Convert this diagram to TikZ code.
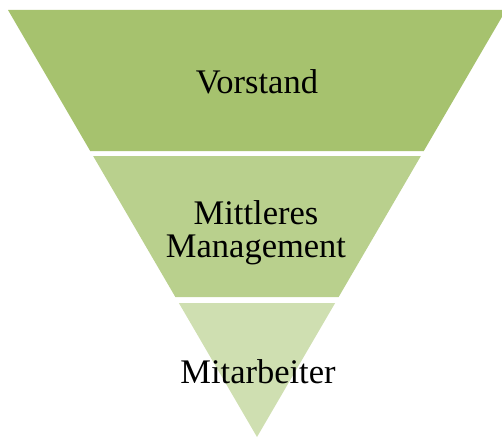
\documentclass[tikz,border=0pt]{standalone}
\usepackage{fontspec}
\setmainfont{Liberation Serif}
\usepackage{tikz}
\usetikzlibrary{calc, positioning}
\definecolor{ebene1}{RGB}{166,194,110}
\definecolor{ebene2}{RGB}{185,208,141}
\definecolor{ebene3}{RGB}{207,223,177}

\begin{document}
\begin{tikzpicture}[x=1pt, y=1pt,
		ebenentext/.style={font=\fontsize{34.5}{33}\selectfont, align=center, inner sep=0pt}]
				\useasboundingbox (0,0) rectangle (502,437);
				\coordinate (apex) at (257,0);
				\coordinate (tl) at (8,427);
				\coordinate (tr) at (506,427);
				% Ebenen: unten, oben, Farbe
				\foreach \lo/\hi/\col in {286/427/ebene1, 140/281/ebene2, 0/134/ebene3} {
					\fill[\col] ($(apex)!\lo/427!(tl)$) -- ($(apex)!\hi/427!(tl)$)
						-- ($(apex)!\hi/427!(tr)$) -- ($(apex)!\lo/427!(tr)$) -- cycle;
				}
				\node[ebenentext] (vorstand) at (257,355) {Vorstand};
				\node[ebenentext] (mittel) at (256,204) {Mittleres\\Management};
				\node[ebenentext] (mitarbeiter) at (258,65) {Mitarbeiter};
			\end{tikzpicture}
\end{document}
